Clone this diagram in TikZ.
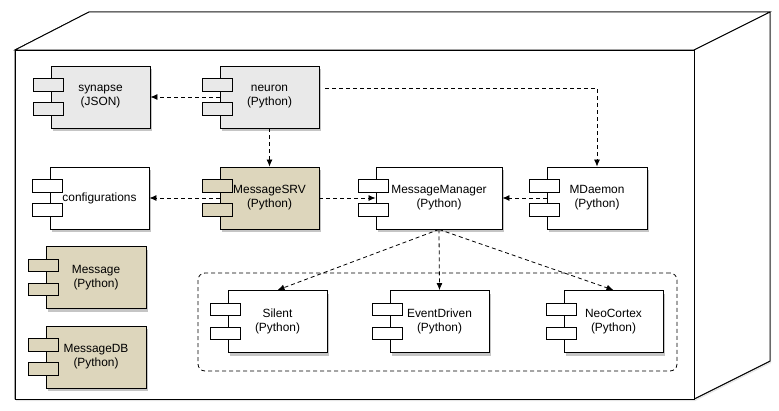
\documentclass[tikz,border=0pt]{standalone}
\usepackage{fontspec}
\setmainfont{Liberation Sans}
\usetikzlibrary{shadows,arrows.meta,calc}
\definecolor{gfill}{HTML}{E9E9E9}
\definecolor{tfill}{HTML}{DDD6BC}
\tikzset{
  body/.style={draw, line width=0.9pt, minimum height=62pt, inner sep=0pt, align=center,
    font=\fontsize{11.9}{14}\selectfont,
    drop shadow={shadow xshift=2pt, shadow yshift=-3pt, opacity=0.45}},
  tab/.style={draw, line width=0.9pt, minimum width=30pt, minimum height=12.5pt, inner sep=0pt},
  dep/.style={dash pattern=on 4pt off 3pt, line width=0.8pt, -{Latex[length=7pt,width=6pt]}},
  face/.style={draw, line width=0.9pt, fill=white, line join=miter},
  group/.style={draw, dash pattern=on 4pt off 3pt, line width=0.8pt, rounded corners=7pt,
    minimum width=479pt, minimum height=98pt, inner sep=0pt},
}
\newcommand\comp[6][99pt]{%
  \node[body, fill=#5, minimum width=#1] (#2) at (#3,#4) {#6};
  \node[tab, fill=#5, anchor=west] (#2t1) at ([xshift=-18pt,yshift=12pt]#2.west) {};
  \node[tab, fill=#5, anchor=west] (#2t2) at ([xshift=-18pt,yshift=-12pt]#2.west) {};
}
\begin{document}
\begin{tikzpicture}[x=1pt,y=-1pt]
\useasboundingbox (0,0) rectangle (779,410);
% cube
\path[face, drop shadow={shadow xshift=1pt, shadow yshift=-2pt, opacity=0.2}]
  (15,50) -- (89,12) -- (770,12) -- (770,361) -- (694,399) -- (15,399) -- cycle;
\draw[face] (15,50) -- (89,12) -- (770,12) -- (694,50) -- cycle;
\draw[face] (694,50) -- (770,12) -- (770,361) -- (694,399) -- cycle;
\node[face, minimum width=679pt, minimum height=349pt, inner sep=0pt] (front) at (354.5,224.5) {};
% group
\node[group] (grp) at (437.5,322) {};
% components
\comp{synapse}{100.5}{97}{gfill}{synapse\\(JSON)}
\comp{neuron}{269.5}{97}{gfill}{neuron\\(Python)}
\comp{configurations}{99.5}{198}{white}{configurations}
\comp{MessageSRV}{269.5}{198}{tfill}{MessageSRV\\(Python)}
\comp[126pt]{MessageManager}{439}{198}{white}{MessageManager\\(Python)}
\comp[100pt]{MDaemon}{597}{198}{white}{MDaemon\\(Python)}
\comp[100pt]{Message}{96}{277.5}{tfill}{Message\\(Python)}
\comp[100pt]{MessageDB}{96}{357}{tfill}{MessageDB\\(Python)}
\comp{Silent}{277.5}{321.5}{white}{Silent\\(Python)}
\comp{EventDriven}{439.5}{321.5}{white}{EventDriven\\(Python)}
\comp{NeoCortex}{613.5}{321.5}{white}{NeoCortex\\(Python)}
% connectors
\draw[dep] (neuron.west) -- (synapse.east);
\draw[dep] (neuron.south) -- (MessageSRV.north);
\draw[dep, shorten <=6pt] ([yshift=9pt]neuron.east) -| (MDaemon.north);
\draw[dep] (MessageSRV.west) -- (configurations.east);
\draw[dep] (MessageSRV.east) -- (MessageManager.west);
\draw[dep] (MDaemon.west) -- (MessageManager.east);
\draw[dep] (MessageManager.south) -- (Silent.north);
\draw[dep] (MessageManager.south) -- (EventDriven.north);
\draw[dep] (MessageManager.south) -- (NeoCortex.north);
\end{tikzpicture}
\end{document}
